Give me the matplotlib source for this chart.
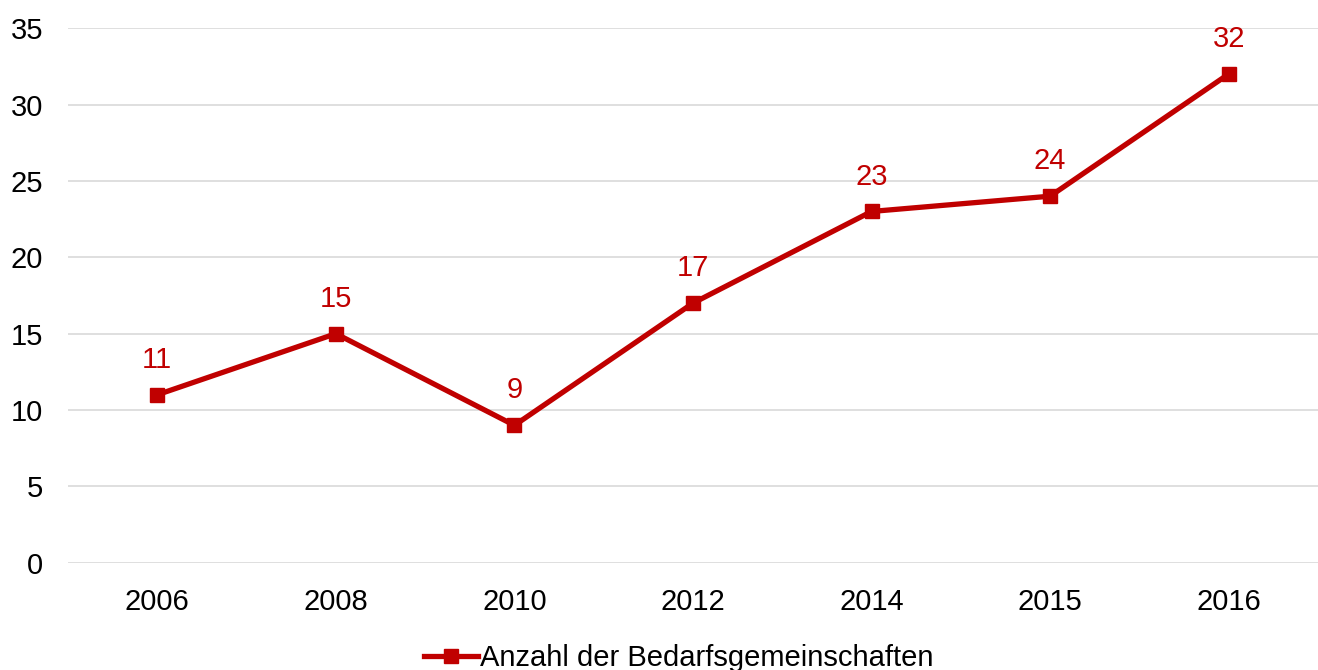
import matplotlib.pyplot as plt

plt.rcParams['font.family'] = ['Liberation Sans', 'DejaVu Sans']

years = ['2006', '2008', '2010', '2012', '2014', '2015', '2016']
values = [11, 15, 9, 17, 23, 24, 32]
series_name = 'Anzahl der Bedarfsgemeinschaften'

red = '#C00000'

fig = plt.figure(figsize=(13.18, 6.70), dpi=100)
ax = fig.add_axes([0.0516, 0.16, 0.9484, 0.798])

x = list(range(len(years)))
ax.plot(x, values, color=red, linewidth=3.8, marker='s', markersize=10,
        label=series_name, zorder=3)

# Datenbeschriftungen über den Punkten
for xi, v in zip(x, values):
    ax.annotate(str(v), (xi, v), xytext=(0, 15), textcoords='offset points',
                ha='center', va='bottom', color=red, fontsize=21)

ax.set_xlim(-0.5, len(years) - 0.5)
ax.set_ylim(0, 35)
ax.set_yticks(range(0, 36, 5))
ax.set_xticks(x)
ax.set_xticklabels(years)
ax.tick_params(axis='both', length=0, labelsize=21, colors='black')
ax.tick_params(axis='x', pad=18)
ax.tick_params(axis='y', pad=18)
ax.grid(axis='y', color='#d9d9d9', linewidth=1.2)
ax.set_axisbelow(True)
for s in ax.spines.values():
    s.set_visible(False)

fig.legend(loc='lower center', bbox_to_anchor=(0.515, -0.042), frameon=False,
           fontsize=21, handlelength=1.85, handletextpad=0.1)

plt.savefig('out.png', dpi=100)
